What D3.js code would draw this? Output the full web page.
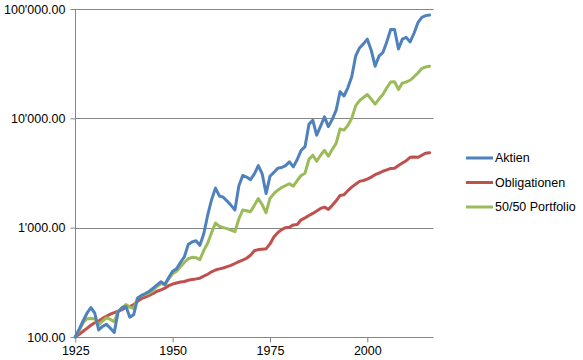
<!DOCTYPE html>
<html><head><meta charset="utf-8">
<script src="https://cdn.jsdelivr.net/npm/d3@7"></script>
<style>body{margin:0;background:#fff}svg{display:block}text{font-family:"Liberation Sans",Arial,sans-serif;fill:#000}</style>
</head><body><div id="chart"></div>
<script>
const years = d3.range(1925, 2017);
const seriesNames = ["Aktien", "Obligationen", "50/50 Portfolio"];
const aktien = [100,118,140,165,186,165,116,125,131,120,110,170,185,190,152,160,225,240,250,262,280,300,320,302,350,400,420,480,540,700,740,760,690,880,1300,1800,2300,1950,1900,1750,1600,1450,2400,3000,2900,2750,3100,3700,3100,2050,2950,3200,3500,3550,3700,4000,3600,4200,5100,5500,8800,9600,7000,8500,10300,8400,9800,11900,17500,16000,19000,24000,37000,44000,48000,53000,42000,30000,37000,40000,50000,65000,65000,43000,53000,55000,50000,60000,75000,84000,87000,88000];
const obligationen = [100,106,113,120,128,135,140,148,155,162,167,172,178,187,190,198,212,225,232,240,250,262,270,280,295,305,312,318,322,330,336,340,345,360,375,395,410,420,428,440,452,470,490,505,525,560,615,630,635,640,710,820,900,960,1000,1010,1060,1070,1180,1230,1290,1350,1420,1500,1540,1470,1600,1760,1970,2000,2180,2350,2500,2650,2700,2780,2900,3050,3150,3280,3380,3480,3500,3700,3900,4100,4400,4420,4400,4600,4800,4850];
const portfolio = [100,115,135,147,148,147,130,140,150,145,138,172,185,198,188,182,228,238,245,252,268,290,308,300,340,380,400,440,480,520,535,532,510,620,720,900,1100,1030,1000,980,950,920,1200,1450,1430,1400,1600,1850,1620,1370,1850,2050,2200,2330,2420,2520,2400,2700,3000,3150,4200,4600,4050,4600,5100,4500,5200,5900,8000,7800,8600,10000,13000,14500,15500,16500,15000,13500,15000,16500,19000,21500,21600,18400,21000,21500,22300,24000,26000,28500,29500,30000];
const yTicks = [100, 1000, 10000, 100000];
const xTicks = [1925, 1950, 1975, 2000];
const colors = ["#4F81BD", "#C0504D", "#9BBB59"];

const W = 583, H = 360;
const svg = d3.select("#chart").append("svg").attr("width", W).attr("height", H);
const x = d3.scaleLinear().domain([1925, 2017]).range([75.3, 433.5]);
const y = d3.scaleLog().domain([100, 100000]).range([337, 9]);
const fmt = v => d3.format(",.2f")(v).replace(/,/g, "'");

// gridlines
svg.append("g").selectAll("line").data(yTicks.slice(1)).join("line")
  .attr("x1", x.range()[0]).attr("x2", x.range()[1])
  .attr("y1", d => Math.round(y(d)) + 0.5).attr("y2", d => Math.round(y(d)) + 0.5)
  .attr("stroke", "#868686").attr("stroke-width", 1);

// y axis
const ya = svg.append("g").attr("transform", `translate(${Math.round(x.range()[0]) + 0.5},0)`)
  .call(d3.axisLeft(y).tickValues(yTicks).tickFormat(fmt).tickSize(5).tickPadding(5));
// x axis
const xa = svg.append("g").attr("transform", `translate(0,${Math.round(y(100)) + 0.5})`)
  .call(d3.axisBottom(x).tickValues(xTicks).tickFormat(d3.format("d")).tickSize(5).tickPadding(4));
[ya, xa].forEach(g => {
  g.select(".domain").attr("stroke", "#868686");
  g.selectAll(".tick line").attr("stroke", "#868686");
  g.selectAll("text").attr("font-size", 12.5).attr("fill", "#000").style("font-family", '"Liberation Sans", Arial, sans-serif');
});
ya.select(".domain").attr("d", `M-0,${y.range()[0]}V${y.range()[1]}`);
xa.select(".domain").attr("d", `M${x.range()[0]},0H${x.range()[1]}`);

const data = [aktien, obligationen, portfolio];
const line = d3.line().x((d, i) => x(years[i])).y(d => y(d));
svg.append("g").selectAll("path").data([1, 2, 0].map(i => ({v: data[i], c: colors[i]}))).join("path")
  .attr("d", d => line(d.v)).attr("fill", "none").attr("stroke", d => d.c)
  .attr("stroke-width", 3).attr("stroke-linejoin", "round").attr("stroke-linecap", "round");

// legend
const lg = svg.append("g").selectAll("g").data(seriesNames).join("g")
  .attr("transform", (d, i) => `translate(466,${158 + i * 24.5})`);
lg.append("line").attr("x1", 0).attr("x2", 27).attr("stroke", (d, i) => colors[i]).attr("stroke-width", 3);
lg.append("text").attr("x", 29).attr("dy", "0.35em").attr("font-size", 12.5).text(d => d);
</script></body></html>
